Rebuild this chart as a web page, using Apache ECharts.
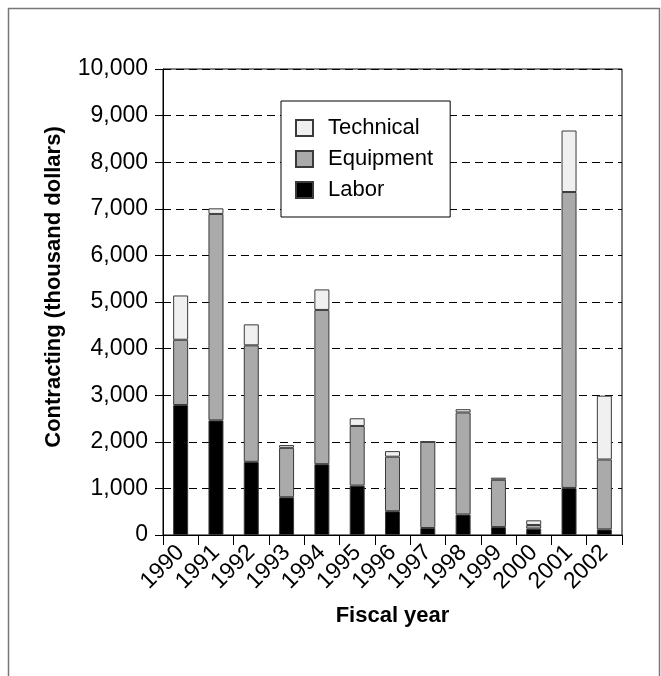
<!DOCTYPE html>
<html>
<head>
<meta charset="utf-8">
<script src="https://cdn.jsdelivr.net/npm/echarts@6/dist/echarts.min.js"></script>
<style>
  html, body { margin: 0; padding: 0; background: #fff; }
  #chart { width: 661px; height: 676px; }
</style>
</head>
<body>
<div id="chart"></div>
<script>
// Fiscal years on the category axis
const years = ['1990', '1991', '1992', '1993', '1994', '1995', '1996',
               '1997', '1998', '1999', '2000', '2001', '2002'];

// Contracting by type, thousand dollars (stacked bottom to top)
const labor     = [2790, 2460, 1570, 810, 1520, 1060, 510, 150, 440, 170, 136, 1010, 120];
const equipment = [1400, 4430, 2500, 1060, 3310, 1280, 1170, 1850, 2190, 1015, 79, 6350, 1500];
const technical = [950, 120, 450, 60, 440, 165, 120, 0, 70, 45, 100, 1320, 1370];

// Y axis range and step
const yMin = 0;
const yMax = 10000;
const yStep = 1000;

const FONT = '"Liberation Sans", Arial, Helvetica, sans-serif';

const chart = echarts.init(document.getElementById('chart'), null, { renderer: 'canvas' });

function barSeries(name, data, color) {
  return {
    name: name,
    type: 'bar',
    stack: 'total',
    data: data,
    barWidth: 15,
    itemStyle: { color: color, borderColor: '#3a3a3a', borderWidth: 1 },
    emphasis: { disabled: true }
  };
}

chart.setOption({
  animation: false,
  backgroundColor: '#fff',
  textStyle: { fontFamily: FONT },
  graphic: [
    {
      // outer frame
      type: 'rect',
      shape: { x: 8.5, y: 8.5, width: 651, height: 720 },
      style: { fill: 'none', stroke: '#777', lineWidth: 1.5 },
      silent: true
    },
    {
      // value axis title
      type: 'text',
      x: 54, y: 287,
      rotation: Math.PI / 2,
      style: {
        text: 'Contracting (thousand dollars)',
        fontFamily: FONT, fontSize: 22, fontWeight: 'bold',
        fill: '#000', align: 'center', verticalAlign: 'middle'
      },
      silent: true
    }
  ],
  grid: {
    left: 163, right: 39, top: 69, bottom: 141,
    show: true, borderColor: '#000', borderWidth: 1, backgroundColor: 'transparent'
  },
  legend: {
    orient: 'vertical',
    left: 281, top: 101,
    data: ['Technical', 'Equipment', 'Labor'],
    itemWidth: 17, itemHeight: 16, itemGap: 9,
    padding: [16, 17, 16, 14],
    borderColor: '#000', borderWidth: 1,
    backgroundColor: '#fff',
    icon: 'rect',
    selectedMode: false,
    textStyle: { fontSize: 22, color: '#000', fontFamily: FONT, lineHeight: 22, padding: [0, 0, 0, 10] }
  },
  xAxis: {
    type: 'category',
    data: years,
    boundaryGap: true,
    name: 'Fiscal year',
    nameLocation: 'middle',
    nameGap: 70,
    nameTextStyle: { fontSize: 22, fontWeight: 'bold', color: '#000', fontFamily: FONT },
    axisLine: { show: true, lineStyle: { color: '#000', width: 1 } },
    axisTick: { show: true, length: 10, lineStyle: { color: '#000' } },
    axisLabel: { rotate: 45, fontSize: 23, color: '#000', margin: 14, interval: 0, fontFamily: FONT },
    splitLine: { show: false }
  },
  yAxis: {
    type: 'value',
    min: yMin, max: yMax, interval: yStep,
    axisLine: { show: true, lineStyle: { color: '#000', width: 1 } },
    axisTick: { show: true, length: 8, lineStyle: { color: '#000' } },
    axisLabel: {
      fontSize: 23, color: '#000', margin: 15, fontFamily: FONT,
      formatter: v => v.toLocaleString('en-US')
    },
    splitLine: { show: true, lineStyle: { color: '#000', type: [8, 5], width: 1 } }
  },
  series: [
    barSeries('Labor', labor, '#000000'),
    barSeries('Equipment', equipment, '#aaaaaa'),
    barSeries('Technical', technical, '#f0f0f0')
  ]
});
</script>
</body>
</html>
